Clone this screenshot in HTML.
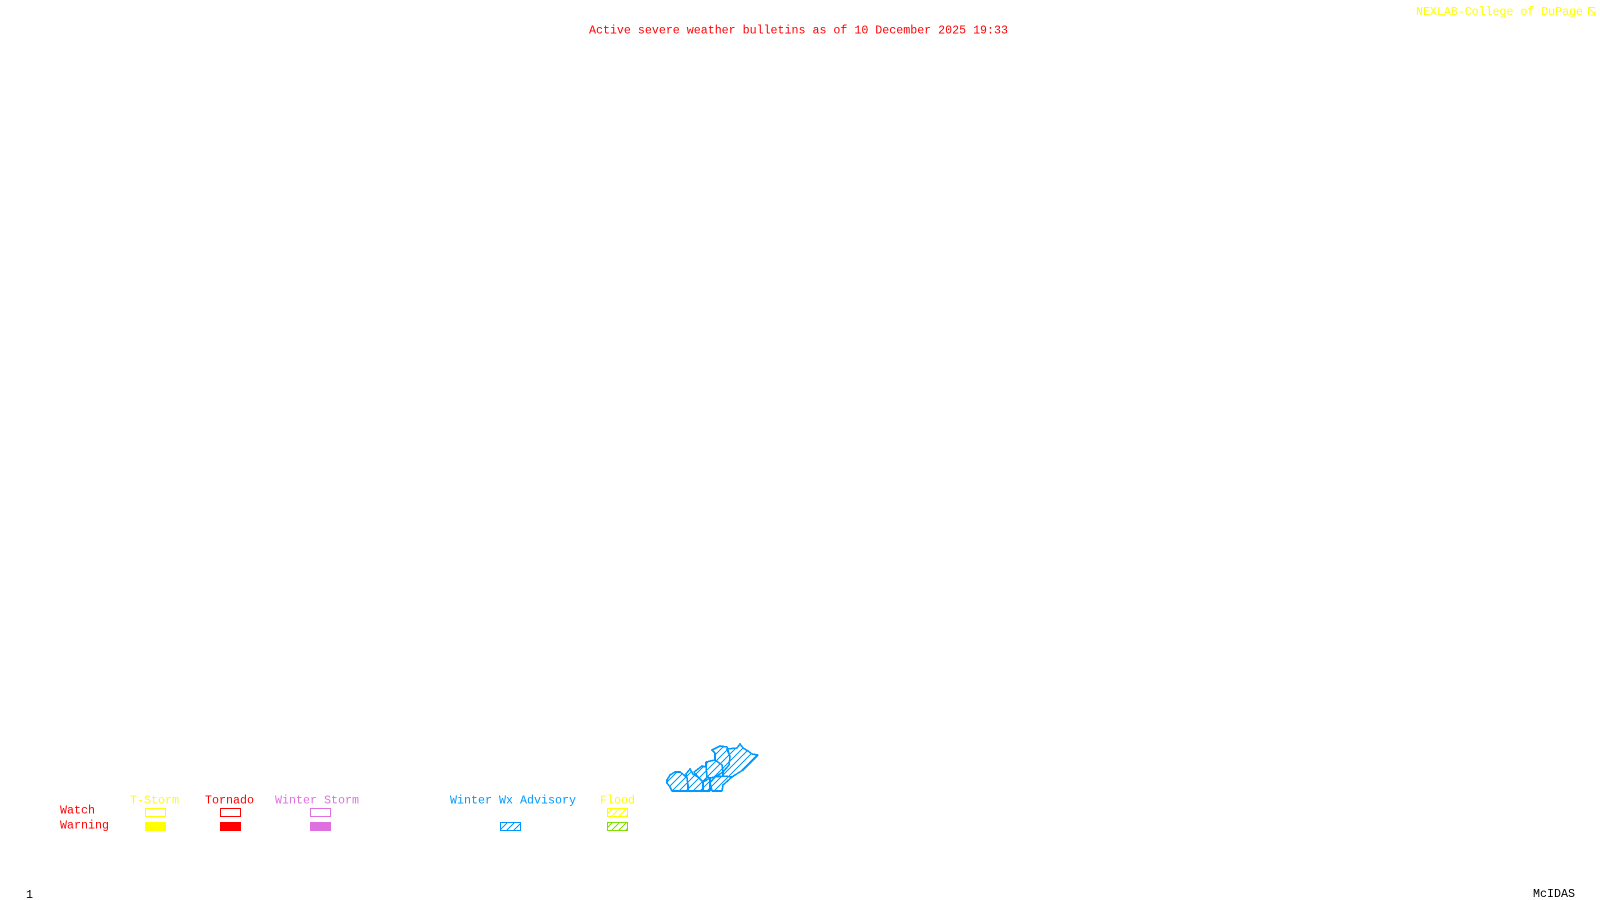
<!DOCTYPE html>
<html>
<head>
<meta charset="utf-8">
<style>
html,body{margin:0;padding:0;background:#fff;width:1600px;height:900px;overflow:hidden}
svg{display:block}
text{font-family:"Liberation Mono",monospace;font-size:11.67px;white-space:pre}
</style>
</head>
<body>
<svg width="1600" height="900" viewBox="0 0 1600 900" xmlns="http://www.w3.org/2000/svg">
<defs>
<pattern id="hb" patternUnits="userSpaceOnUse" width="7" height="7">
<path d="M-1 8L8 -1M-1 1L1 -1M6 8L8 6" stroke="#0099ff" stroke-width="1.1" shape-rendering="crispEdges"/>
</pattern>
<pattern id="hy" patternUnits="userSpaceOnUse" width="7" height="7">
<path d="M-1 8L8 -1M-1 1L1 -1M6 8L8 6" stroke="#ffff00" stroke-width="1.1" shape-rendering="crispEdges"/>
</pattern>
<pattern id="hg" patternUnits="userSpaceOnUse" width="7" height="7">
<path d="M-1 8L8 -1M-1 1L1 -1M6 8L8 6" stroke="#7fdf00" stroke-width="1.1" shape-rendering="crispEdges"/>
</pattern>
</defs>
<rect width="1600" height="900" fill="#fff"/>

<text x="589" y="33.5" fill="#ff0000" textLength="419" lengthAdjust="spacing">Active severe weather bulletins as of 10 December 2025 19:33</text>
<text x="1416" y="15" fill="#ffff00" textLength="167" lengthAdjust="spacing">NEXLAB-College of DuPage</text>
<path d="M1588.5 15V7.5H1595M1589 8L1595 14.5M1595 11V15H1591" fill="none" stroke="#ffff00" stroke-width="1"/>

<g fill="url(#hb)" stroke="#0099ff" stroke-width="1.6" stroke-linejoin="round" shape-rendering="crispEdges">
<polygon points="667,780 670,775 675,772 680,772 684,775 687,778 688,785 688,791 672,791 670,787 667,783"/>
<polygon points="686,774 690,769 693,774 698,777 703,782 703,791 688,791 688,785 687,778"/>
<polygon points="694,772 702,766 706,767 707,777 703,782 698,777"/>
<polygon points="703,782 710,778 710,791 703,791"/>
<polygon points="710,783 715,777 723,776 732,777 723,785 722,791 712,791"/>
<polygon points="706,762 715,760 722,765 723,772 715,777 710,778 707,777 706,767"/>
<polygon points="712,750 720,746 727,747 730,757 729,765 723,772 722,765 715,760 715,753"/>
<polygon points="727,749 737,748 740,744 743,748 748,751 752,754 758,755 750,763 743,770 735,775 732,777 723,776 723,772 729,765 730,757"/>
</g>

<text x="130" y="803.5" fill="#ffff00" textLength="49" lengthAdjust="spacing">T-Storm</text>
<text x="205" y="803.5" fill="#ff0000" textLength="49" lengthAdjust="spacing">Tornado</text>
<text x="275" y="803.5" fill="#df70df" textLength="84" lengthAdjust="spacing">Winter Storm</text>
<text x="450" y="803.5" fill="#0099ff" textLength="126" lengthAdjust="spacing">Winter Wx Advisory</text>
<text x="600" y="803.5" fill="#ffff00" textLength="35" lengthAdjust="spacing">Flood</text>
<text x="60" y="813.5" fill="#ff0000" textLength="35" lengthAdjust="spacing">Watch</text>
<text x="60" y="828.5" fill="#ff0000" textLength="49" lengthAdjust="spacing">Warning</text>

<rect x="145.5" y="808.5" width="20" height="8" fill="none" stroke="#ffff00"/>
<rect x="145" y="822" width="21" height="9" fill="#ffff00"/>
<rect x="220.5" y="808.5" width="20" height="8" fill="none" stroke="#ff0000"/>
<rect x="220" y="822" width="21" height="9" fill="#ff0000"/>
<rect x="310.5" y="808.5" width="20" height="8" fill="none" stroke="#df70df"/>
<rect x="310" y="822" width="21" height="9" fill="#df70df"/>
<rect x="500.5" y="822.5" width="20" height="8" fill="url(#hb)" stroke="#0099ff"/>
<rect x="607.5" y="808.5" width="20" height="8" fill="url(#hy)" stroke="#ffff00"/>
<rect x="607.5" y="822.5" width="20" height="8" fill="url(#hg)" stroke="#7fdf00"/>

<text x="26" y="898" fill="#000">1</text>
<text x="1533" y="897" fill="#000" textLength="42" lengthAdjust="spacing">McIDAS</text>
</svg>
</body>
</html>
